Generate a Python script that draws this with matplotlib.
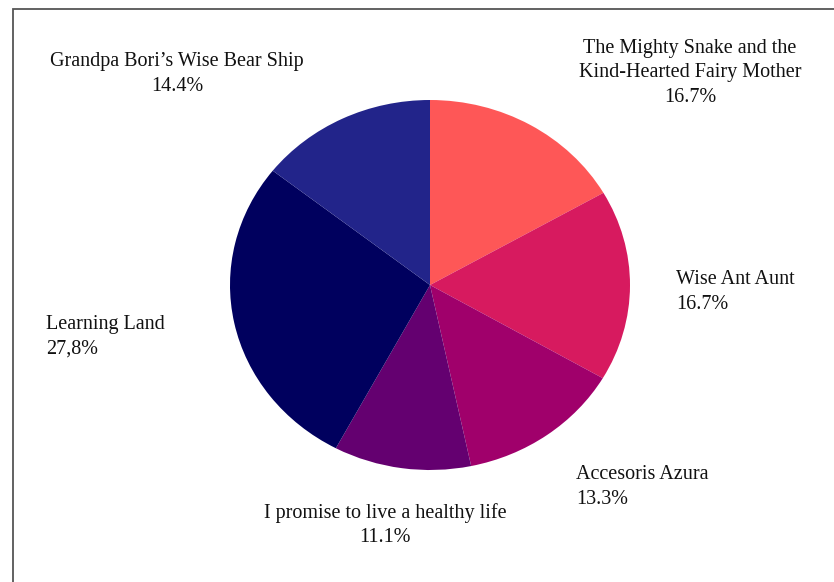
import matplotlib
matplotlib.use('Agg')
import matplotlib.pyplot as plt
from matplotlib.patches import Rectangle

# data, clockwise from 12 o'clock
names = ['The Mighty Snake and the\nKind-Hearted Fairy Mother', 'Wise Ant Aunt',
         'Accesoris Azura', 'I promise to live a healthy life',
         'Learning Land', 'Grandpa Bori\u2019s Wise Bear Ship']
shares = [16.7, 16.7, 13.3, 11.1, 27.8, 14.4]
pct_labels = ['16.7%', '16.7%', '13.3%', '11.1%', '27,8%', '14.4%']
colors = ['#fe5757', '#d71a5f', '#a0006b', '#640070', '#00005e', '#22248a']

plt.rcParams['font.family'] = ['Liberation Serif', 'DejaVu Serif']

fig = plt.figure(figsize=(8.34, 5.82), dpi=100)
W, H = 834, 582

# pie bbox in pixels: x 230..630, y 100..470
ax = fig.add_axes([230 / W, 1 - 470 / H, 400 / W, 370 / H])
ax.pie(shares, colors=colors, startangle=90, counterclock=False,
       wedgeprops=dict(linewidth=0))
ax.set_aspect('auto')
ax.set_xlim(-1, 1)
ax.set_ylim(-1, 1)
ax.axis('off')

# label placement (pixel anchors, alignment)
spots = [(690, 73, 'center'), (676, 292, 'left'), (576, 487, 'left'),
         (385, 525, 'center'), (46, 337, 'left'), (177, 74, 'center')]
for name, pct, (x, y, ha) in zip(names, pct_labels, spots):
    fig.text(x / W, 1 - y / H, name + '\n' + pct, ha=ha, va='center',
             fontsize=14.5, color='#111111', linespacing=1.37,
             multialignment=ha)

# frame around the chart
fig.patches.append(Rectangle((12.5 / W, -0.05), 1.1, 1 - 8.5 / H + 0.05,
                             transform=fig.transFigure, fill=False,
                             edgecolor='#555555', linewidth=1.3))

fig.savefig('out.png', dpi=100)
